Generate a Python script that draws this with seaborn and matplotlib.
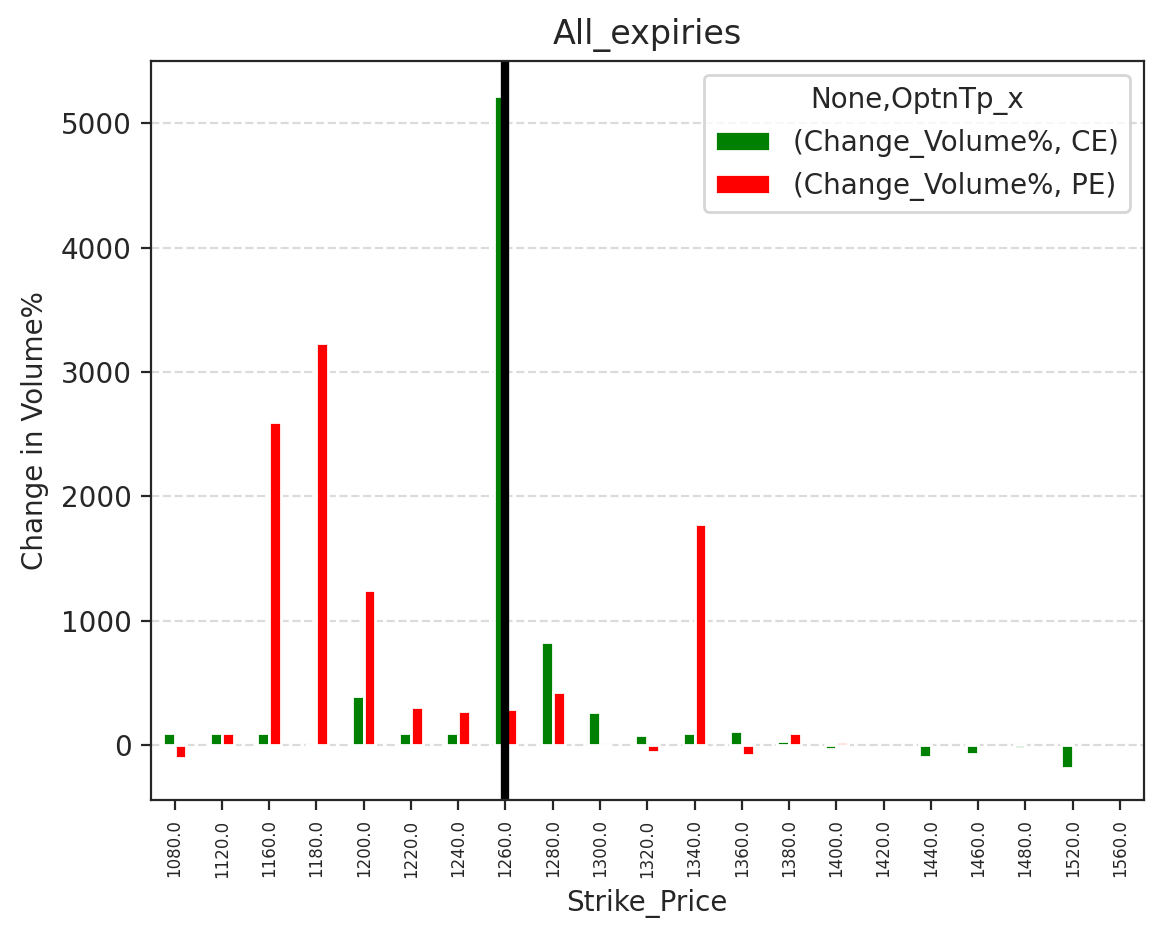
import numpy as np
import pandas as pd
import seaborn as sns
import matplotlib.pyplot as plt

strikes = [1080, 1120, 1160, 1180, 1200, 1220, 1240, 1260, 1280, 1300,
           1320, 1340, 1360, 1380, 1400, 1420, 1440, 1460, 1480, 1520, 1560]
ce = [100, 100, 100, 0, 400, 100, 100, 5220, 830, 270,
      80, 100, 118, 38, -32, np.nan, -91, -67, -25, -180, np.nan]
pe = [-100, 100, 2600, 3230, 1250, 304, 272, 288, 430, 5,
      -51, 1780, -75, 100, 30, np.nan, np.nan, np.nan, np.nan, np.nan, np.nan]
atm_strike = 1260

labels = [f"{s:.1f}" for s in strikes]
df = pd.DataFrame({"Strike_Price": labels * 2,
                   "value": ce + pe,
                   "type": ["(Change_Volume%, CE)"] * len(ce) + ["(Change_Volume%, PE)"] * len(pe)})

sns.set_style("ticks")
plt.rcParams['font.family'] = ['DejaVu Sans']
fig, ax = plt.subplots(figsize=(5.805, 4.695), dpi=200)
sns.barplot(data=df, x="Strike_Price", y="value", hue="type", order=labels,
            palette=["green", "red"], width=0.5, saturation=1, ax=ax)
ax.grid(axis="y", linestyle="--", alpha=0.7)
ax.set_axisbelow(True)
ax.axvline(x=labels.index(f"{atm_strike:.1f}"), color="black", linewidth=3)
ax.set_ylim(-440, 5500)
ax.set_xlim(-0.5, len(labels) - 0.5)
ax.tick_params(axis="x", labelsize=6, rotation=90)
ax.set_xlabel("Strike_Price")
ax.set_ylabel("Change in Volume%")
ax.set_title("All_expiries")
ax.legend(title="None,OptnTp_x", loc="upper right")
plt.subplots_adjust(left=0.13, right=0.985, top=0.935, bottom=0.148)
plt.savefig("out.png", dpi=200)
